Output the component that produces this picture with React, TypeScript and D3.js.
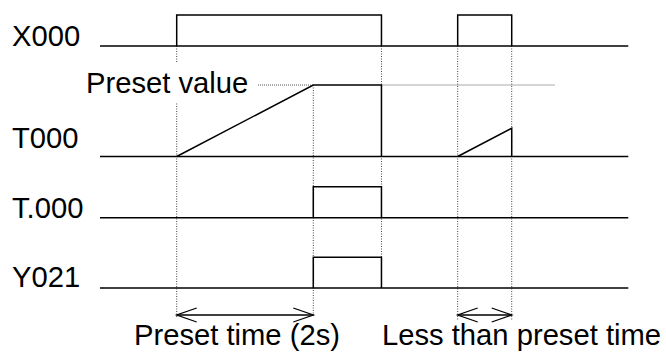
import React from "react";
import * as d3 from "d3";

// Signal names (rows)
const signals = ["X000", "T000", "T.000", "Y021"];
// Event times (s)
const tStart = 0;
const xOn1 = 1.123;
const presetTime = 2;
const xOff1 = 4.121;
const xOn2 = 5.237;
const xOff2 = 6.028;
const tEnd = 7.735;
const presetLineEnd = 6.66;
// Annotation texts
const presetLabel = "Preset value";
const arrowLabels = ["Preset time (2s)", "Less than preset time"];

const W = 666;
const H = 360;
const FONT = "Liberation Sans, Arial, sans-serif";
const FS = 29.2;

export default function App() {
  const x = d3.scaleLinear().domain([tStart, tEnd]).range([100, 628.3]);
  // per-row vertical layout
  const rowY = [
    d3.scaleLinear().domain([0, 1]).range([46, 15]),
    d3.scaleLinear().domain([0, presetTime]).range([156.5, 85]),
    d3.scaleLinear().domain([0, 1]).range([217.7, 186.7]),
    d3.scaleLinear().domain([0, 1]).range([288, 257.3]),
  ];
  const labelBase = [45.5, 148, 218, 287];
  const tDone = xOn1 + presetTime;

  const line = d3.line<[number, number]>();
  const box = (s: d3.ScaleLinear<number, number>, a: number, b: number): [number, number][] => [
    [x(a), s(0)], [x(a), s(1)], [x(b), s(1)], [x(b), s(0)],
  ];
  const base = (s: d3.ScaleLinear<number, number>): [number, number][] => [
    [x(tStart), s(0)], [x(tEnd), s(0)],
  ];

  const yx = rowY[0];
  const yt = rowY[1];
  const t000a: [number, number][] = [
    [x(xOn1), yt(0)], [x(tDone), yt(presetTime)], [x(xOff1), yt(presetTime)], [x(xOff1), yt(0)],
  ];
  const t000b: [number, number][] = [
    [x(xOn2), yt(0)], [x(xOff2), yt(xOff2 - xOn2)], [x(xOff2), yt(0)],
  ];

  const arrowY = 315;
  const dotted = [
    { t: xOn1, y1: 46, y2: 317 },
    { t: tDone, y1: 85, y2: 317 },
    { t: xOff1, y1: 46, y2: 288 },
    { t: xOn2, y1: 46, y2: 320 },
    { t: xOff2, y1: 46, y2: 320 },
  ];
  const arrows = [
    { a: xOn1, b: tDone, label: arrowLabels[0], lx: 134 },
    { a: xOn2, b: xOff2, label: arrowLabels[1], lx: 382 },
  ];

  return (
    <svg width={W} height={H} style={{ display: "block", position: "absolute", left: 0, top: 0 }}>
      <rect width={W} height={H} fill="#fff" />
      {dotted.map((d, i) => (
        <line key={i} x1={x(d.t)} x2={x(d.t)} y1={d.y1} y2={d.y2}
          stroke="#444" strokeWidth={1} strokeDasharray="1,1.5" />
      ))}
      <line x1={258} x2={x(tDone)} y1={yt(presetTime)} y2={yt(presetTime)}
        stroke="#555" strokeWidth={1} strokeDasharray="1,1" />
      <line x1={x(xOff1)} x2={x(presetLineEnd)} y1={yt(presetTime)} y2={yt(presetTime)}
        stroke="#555" strokeWidth={1} strokeDasharray="1,1" />
      <rect x={84} y={62} width={172} height={40} fill="#fff" />
      <text x={86} y={93} fontFamily={FONT} fontSize={FS} fill="#000">{presetLabel}</text>

      <g fill="none" stroke="#000" strokeWidth={1.5}>
        {rowY.map((s, i) => <path key={i} d={line(base(s)) || ""} />)}
        <path d={line(box(yx, xOn1, xOff1)) || ""} />
        <path d={line(box(yx, xOn2, xOff2)) || ""} />
        <path d={line(t000a) || ""} />
        <path d={line(t000b) || ""} />
        <path d={line(box(rowY[2], tDone, xOff1)) || ""} />
        <path d={line(box(rowY[3], tDone, xOff1)) || ""} />
      </g>

      {signals.map((s, i) => (
        <text key={s} x={12} y={labelBase[i]} fontFamily={FONT} fontSize={FS} fill="#000">{s}</text>
      ))}

      {arrows.map((a, i) => {
        const xa = x(a.a), xb = x(a.b);
        return (
          <g key={i} stroke="#000" strokeWidth={1.3} fill="none">
            <line x1={xa} x2={xb} y1={arrowY} y2={arrowY} />
            <path d={`M${xa + 20},${arrowY - 7}L${xa},${arrowY}L${xa + 20},${arrowY + 7}`} />
            <path d={`M${xb - 20},${arrowY - 7}L${xb},${arrowY}L${xb - 20},${arrowY + 7}`} />
            <text x={a.lx} y={345} fontFamily={FONT} fontSize={FS} fill="#000" stroke="none">{a.label}</text>
          </g>
        );
      })}
    </svg>
  );
}
